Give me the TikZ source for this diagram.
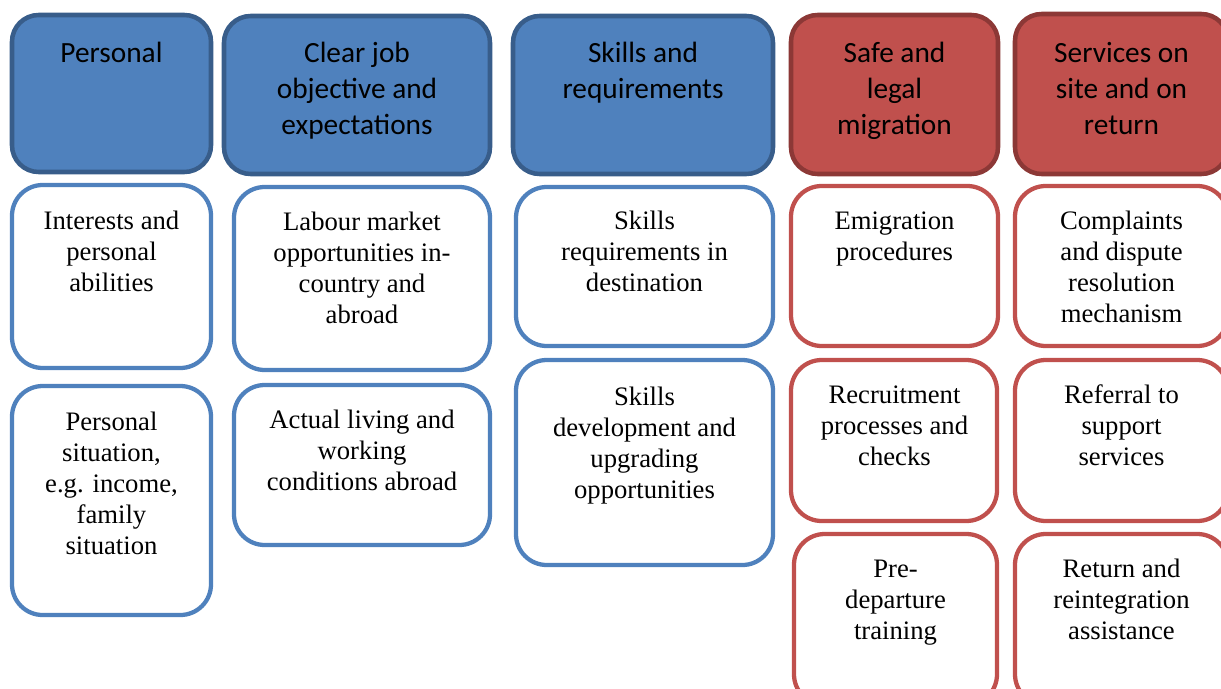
\documentclass[tikz,border=0pt]{standalone}
\usepackage{fontspec}
\setmainfont{Liberation Serif}
\newfontfamily\headfont{Carlito}

\definecolor{hblue}{HTML}{4F81BD}
\definecolor{hbluedark}{HTML}{385D8A}
\definecolor{hred}{HTML}{C0504D}
\definecolor{hreddark}{HTML}{8C3836}

\tikzset{
  head/.style={line width=3.4pt, rounded corners=20pt},
  item/.style={line width=3.2pt, rounded corners=23pt, fill=white},
  headtext/.style={anchor=north, inner sep=0pt, align=center, font=\headfont\fontsize{22}{27}\selectfont},
  itemtext/.style={anchor=north, inner sep=0pt, align=center, font=\fontsize{20}{23.25}\selectfont},
}

\begin{document}
\begin{tikzpicture}[x=0.75pt, y=-0.75pt]
  \useasboundingbox (0,0) rectangle (1221,689);
  \clip (0,0) rectangle (1221,689);
  % column heads
  \filldraw [head, draw=hbluedark, fill=hblue] (12,15) rectangle (211,172);
  \filldraw [head, draw=hbluedark, fill=hblue] (224,16) rectangle (490,174);
  \filldraw [head, draw=hbluedark, fill=hblue] (513,16) rectangle (773,174);
  \filldraw [head, draw=hreddark, fill=hred] (791,15) rectangle (998,174);
  \filldraw [head, draw=hreddark, fill=hred] (1015,14) rectangle (1228,174);
  \node (personal) [headtext] at (111.5,37) {\strut Personal};
  \node (jobgoal) [headtext] at (357,37) {\strut Clear job\\objective and\\expectations};
  \node (skills) [headtext] at (643,37) {\strut Skills and\\requirements};
  \node (safe) [headtext] at (894.5,37) {\strut Safe and\\legal\\migration};
  \node (services) [headtext] at (1121.5,37) {\strut Services on\\site and on\\return};
  %
  % personal
  \filldraw [item, draw=hblue] (12,185) rectangle (211,368);
  \filldraw [item, draw=hblue] (12,386) rectangle (211,615);
  \node (interests) [itemtext] at (111.5,208) {\strut Interests and\\personal\\abilities};
  \node (situation) [itemtext] at (111.5,409) {\strut Personal\\situation,\\e.g. income,\\family\\situation};
  % job objective
  \filldraw [item, draw=hblue] (234,187) rectangle (490,370);
  \filldraw [item, draw=hblue] (234,385) rectangle (490,545);
  \node (market) [itemtext] at (362,209) {\strut Labour market\\opportunities in-\\country and\\abroad};
  \node (living) [itemtext] at (362,407) {\strut Actual living and\\working\\conditions abroad};
  % skills
  \filldraw [item, draw=hblue] (516,187) rectangle (773,346);
  \filldraw [item, draw=hblue] (516,360) rectangle (773,565);
  \node (skillreq) [itemtext] at (644.5,208) {\strut Skills\\requirements in\\destination};
  \node (skilldev) [itemtext] at (644.5,384) {\strut Skills\\development and\\upgrading\\opportunities};
  % safe migration
  \filldraw [item, draw=hred] (791,186) rectangle (998,346);
  \filldraw [item, draw=hred] (791,360) rectangle (997,521);
  \filldraw [item, draw=hred] (794,534) rectangle (997,705);
  \node (emigration) [itemtext] at (894.5,208) {\strut Emigration\\procedures};
  \node (recruit) [itemtext] at (894.5,382) {\strut Recruitment\\processes and\\checks};
  \node (predepart) [itemtext] at (895.5,556) {\strut Pre-\\departure\\training};
  % services
  \filldraw [item, draw=hred] (1015,186) rectangle (1228,346);
  \filldraw [item, draw=hred] (1015,360) rectangle (1228,521);
  \filldraw [item, draw=hred] (1015,534) rectangle (1228,705);
  \node (complaints) [itemtext] at (1121.5,208) {\strut Complaints\\and dispute\\resolution\\mechanism};
  \node (referral) [itemtext] at (1121.5,382) {\strut Referral to\\support\\services};
  \node (return) [itemtext] at (1121.5,556) {\strut Return and\\reintegration\\assistance};
\end{tikzpicture}
\end{document}
